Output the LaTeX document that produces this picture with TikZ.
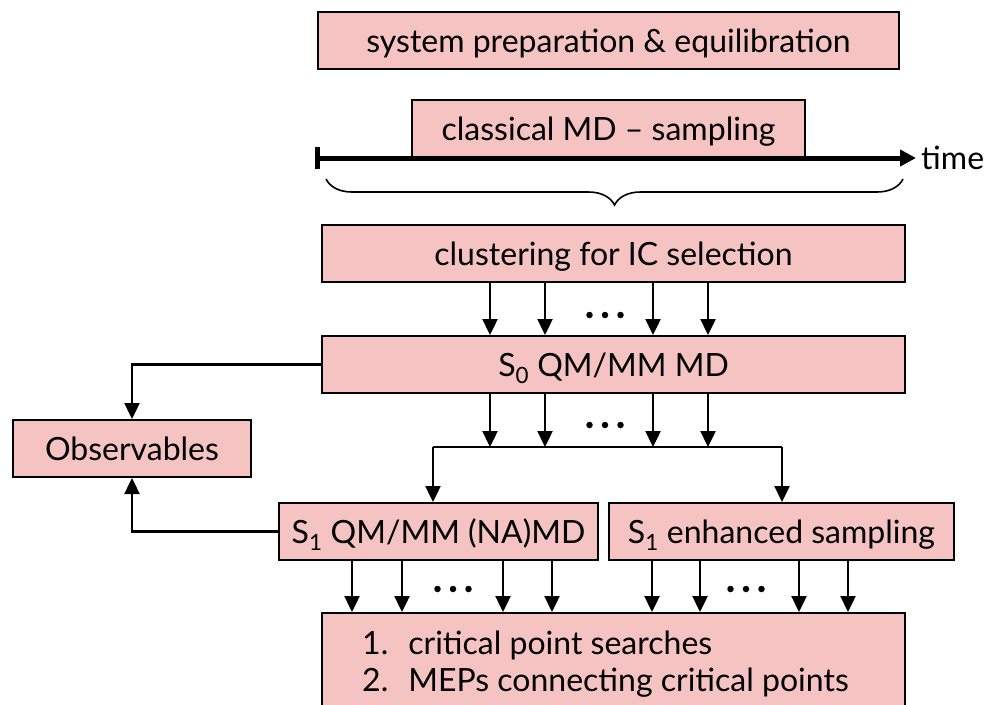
\documentclass[tikz,border=0pt]{standalone}
\usepackage{fontspec}
\setmainfont{Lato}
\usetikzlibrary{arrows.meta,decorations.pathreplacing}
\definecolor{boxpink}{RGB}{245,195,194}
\begin{document}
\begin{tikzpicture}[x=1pt,y=-1pt,
  stage/.style={draw=black, line width=2pt, fill=boxpink, inner sep=0pt,
    font=\fontsize{32}{38}\selectfont, text height=23pt, text depth=0pt},
  arr/.style={line width=2.4pt, -{Triangle[width=15pt,length=16pt]}},
  link/.style={line width=2.4pt},
  dotpt/.style={circle, fill=black, inner sep=0pt, minimum size=6.5pt},
]
\useasboundingbox (0,0) rectangle (992,704);
\clip (0,0) rectangle (992,704);

% ellipsis made of three round dots
\newcommand\ellip[2]{%
  \foreach \k in {-1,0,1}
    \node[dotpt] at (#1+15.5*\k,#2) {};}

% workflow stages
\node[stage, minimum width=581pt, minimum height=57pt] (prep) at (608.5,40.5)
  {system preparation \& equilibration};
\node[stage, minimum width=393pt, minimum height=58pt] (md) at (608.5,129)
  {classical MD -- sampling};

% time axis with brace below
\coordinate (t0) at (315,158);
\coordinate (t1) at (916,158);
\draw[line width=5pt, {Bar[width=22pt]}-{Triangle[width=16pt,length=16pt]}] (t0) -- (t1);
\node[anchor=base west, inner sep=0pt, font=\fontsize{32}{38}\selectfont] (time) at (921,169) {time};
\coordinate (b0) at (326,179);
\coordinate (b1) at (903,179);
\draw[line width=1.6pt, decorate,
  decoration={brace, mirror, amplitude=26pt}] (b0) -- (b1);

\node[stage, minimum width=583pt, minimum height=57pt] (clust) at (613.5,253.5)
  {clustering for IC selection};
\node[stage, minimum width=583pt, minimum height=57pt] (s0) at (613.5,364.5)
  {S\textsubscript{0} QM/MM MD};
\node[stage, minimum width=238pt, minimum height=57pt] (obs) at (132,448.5)
  {Observables};
\node[stage, minimum width=319pt, minimum height=57pt] (s1md) at (438.5,531.5)
  {S\textsubscript{1} QM/MM (NA)MD};
\node[stage, minimum width=345pt, minimum height=57pt] (s1es) at (781.5,531.5)
  {S\textsubscript{1} enhanced sampling};
\node[stage, minimum width=583pt, minimum height=115pt] (crit) at (613.5,670.5) {};
\node[anchor=north west, inner sep=0pt, font=\fontsize{32}{37}\selectfont, align=left]
  (critlist) at (362,628)
  {\begin{tabular}{@{}l@{\hspace{20pt}}l@{}}
   1. & critical point searches\\
   2. & MEPs connecting critical points
   \end{tabular}};

% clustering -> S0 trajectories
\foreach \x in {490,545,653,708}
  \draw[arr] (clust.south -| \x,0) -- (s0.north -| \x,0);
\ellip{605}{315}

% S0 -> branch to S1 runs
\coordinate (jl) at (433,447);
\coordinate (jr) at (782,447);
\foreach \x in {490,545,653,708}
  \draw[arr] (s0.south -| \x,0) -- (jl -| \x,0);
\ellip{605}{425}
\draw[link] (jl) -- (jr);
\draw[arr] (jl) -- (s1md.north -| jl);
\draw[arr] (jr) -- (s1es.north -| jr);

% observables from S0 and S1
\draw[arr] (s0.west) -| (obs.north);
\draw[arr] (s1md.west) -| (obs.south);

% S1 runs -> critical point searches
\foreach \x in {352,402,503,552,652,700,799,848}
  \draw[arr] (s1md.south -| \x,0) -- (crit.north -| \x,0);
\ellip{453}{589}
\ellip{746}{589}
\end{tikzpicture}
\end{document}
